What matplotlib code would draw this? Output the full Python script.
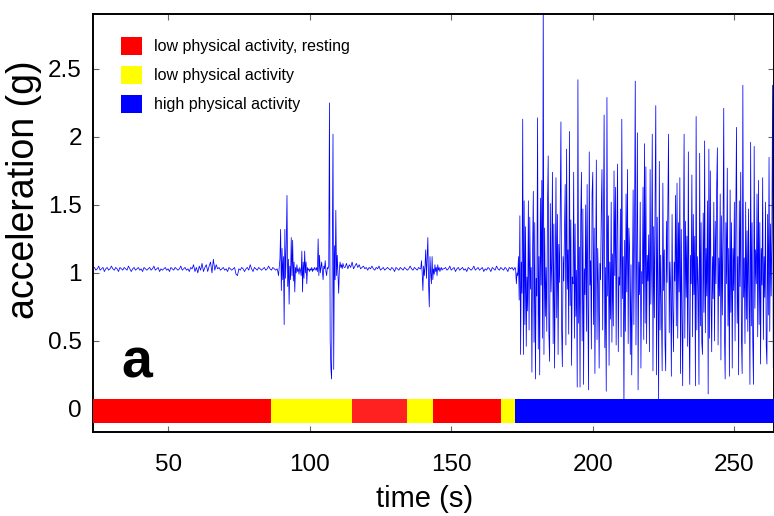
"""
Acceleration trace with activity classes (panel a)
"""

import numpy as np
import matplotlib.pyplot as plt
from matplotlib.patches import Patch
from matplotlib.ticker import FormatStrFormatter

plt.rcParams['font.family'] = ['Liberation Sans', 'DejaVu Sans']

# Acceleration samples in centi-g.
# Each stretch: start time (s), sample step (s), values.
QUIET_A_T0, QUIET_A_DT = 23.5, 0.5
QUIET_A = [
    103, 104, 102, 103, 105, 102, 103, 104, 101, 103,
    104, 102, 103, 105, 103, 102, 104, 103, 101, 104,
    103, 102, 104, 103, 102, 105, 103, 101, 103, 104,
    102, 103, 104, 102, 103, 101, 104, 103, 102, 103,
    104, 102, 103, 105, 102, 103, 104, 101, 103, 102,
    103, 104, 102, 103, 101, 104, 103, 102, 104, 103,
    102, 103, 105, 102, 103, 104, 102, 103, 101, 104,
    103, 106, 101, 104, 100, 105, 102, 107, 101, 104,
    106, 101, 105, 108, 100, 110, 102, 106, 103, 104,
    102, 103, 104, 102, 103, 101, 104, 103, 102, 103,
    104, 99, 98, 103, 102, 104, 103, 101, 103, 104,
    102, 106, 103, 101, 104, 103, 102, 104, 103, 102,
    103, 104, 102, 103, 105, 103, 102, 104, 103, 102,
]

BURST_A_T0, BURST_A_DT = 88.5, 0.25
BURST_A = [
    103, 101, 98, 104, 110, 132, 87, 118,
    95, 112, 62, 132, 96, 120, 157, 90,
    110, 77, 105, 95, 126, 98, 124, 94,
    108, 86, 104, 100, 106, 101, 103, 99,
    104, 102, 98, 116, 86, 108, 96, 116,
    100, 108, 92, 104, 102, 103, 101, 103,
    102, 104, 101, 103, 102, 104, 103, 102,
    104, 101, 125, 98, 113, 100, 104, 108,
    101, 95, 105, 103, 109, 101, 98, 104,
    103, 105, 225, 50, 30, 22, 110, 202,
    29, 120, 95, 146, 98, 113, 100, 85,
    103, 108, 104, 106, 103, 107, 105, 104,
]

QUIET_B_T0, QUIET_B_DT = 112.5, 0.5
QUIET_B = [
    104, 107, 103, 106, 104, 108, 103, 105, 107, 104,
    106, 103, 104, 105, 103, 104, 102, 104, 103, 105,
    103, 102, 104, 103, 105, 102, 103, 104, 102, 103,
    104, 103, 102, 104, 103, 101, 104, 103, 102, 104,
    103, 102, 104, 103, 102, 103, 105, 103, 102, 104,
    103, 102, 104, 103,
]

BURST_B_T0, BURST_B_DT = 139.25, 0.25
BURST_B = [
    103, 109, 100, 87, 105, 98, 105, 117,
    96, 110, 126, 92, 75, 112, 100, 92,
    112, 95, 103, 99, 106, 101, 104, 98,
    106, 102, 104, 101, 103, 104, 102, 103,
]

QUIET_C_T0, QUIET_C_DT = 147.5, 0.5
QUIET_C = [
    103, 104, 102, 103, 105, 102, 103, 104, 101, 103,
    104, 102, 103, 104, 102, 103, 101, 104, 103, 102,
    103, 105, 102, 103, 104, 102, 103, 104, 101, 103,
    102, 104, 103, 101, 104, 103, 102, 105, 103, 102,
    104, 103, 102, 104, 103, 101, 104, 103, 104, 102,
]

ACTIVE_T0, ACTIVE_DT = 172.5, 0.25
ACTIVE = [
    104, 103, 92, 100, 98, 112, 80, 142,
    40, 108, 85, 213, 40, 153, 62, 134,
    46, 97, 72, 153, 58, 141, 88, 104,
    27, 118, 160, 49, 137, 22, 96, 83,
    214, 44, 112, 25, 155, 91, 168, 52,
    300, 40, 133, 68, 104, 57, 148, 186,
    55, 35, 151, 86, 107, 174, 48, 136,
    30, 101, 170, 67, 143, 40, 121, 93,
    145, 211, 58, 31, 112, 94, 128, 165,
    47, 191, 88, 117, 55, 204, 76, 139,
    32, 97, 92, 174, 52, 136, 68, 102,
    16, 242, 63, 119, 16, 141, 174, 50,
    147, 18, 103, 84, 150, 57, 165, 78,
    14, 189, 91, 109, 44, 158, 174, 62,
    133, 26, 98, 183, 51, 118, 89, 30,
    107, 95, 145, 176, 58, 131, 216, 45,
    104, 13, 229, 83, 142, 32, 108, 66,
    152, 49, 114, 61, 175, 98, 163, 47,
    131, 180, 42, 97, 91, 147, 53, 213,
    81, 112, 0, 124, 57, 158, 86, 176,
    48, 133, 118, 40, 106, 25, 97, 161,
    62, 137, 241, 47, 119, 203, 14, 108,
    84, 152, 30, 101, 92, 163, 51, 195,
    63, 178, 48, 113, 94, 128, 42, 176,
    77, 110, 202, 28, 134, 67, 152, 223,
    25, 141, 86, 7, 182, 58, 113, 72,
    28, 166, 87, 117, 49, 28, 138, 93,
    151, 202, 56, 108, 88, 24, 143, 73,
    42, 108, 94, 157, 61, 166, 52, 137,
    86, 170, 26, 132, 69, 17, 118, 202,
    52, 138, 82, 127, 46, 189, 63, 18,
    113, 92, 172, 53, 143, 84, 127, 17,
    215, 58, 112, 91, 18, 188, 61, 137,
    49, 40, 144, 71, 197, 56, 118, 83,
    153, 11, 191, 52, 175, 87, 42, 112,
    81, 152, 50, 138, 92, 162, 192, 47,
    111, 83, 158, 36, 142, 69, 127, 221,
    56, 22, 137, 92, 177, 61, 118, 24,
    161, 71, 137, 30, 118, 87, 152, 50,
    141, 207, 63, 112, 25, 153, 90, 174,
    52, 26, 238, 82, 111, 48, 152, 66,
    131, 57, 147, 88, 18, 196, 61, 137,
    50, 18, 193, 74, 117, 92, 158, 53,
    168, 62, 137, 33, 118, 91, 170, 51,
    112, 82, 152, 47, 33, 143, 69, 185,
    57, 136, 83, 127, 238, 30, 108, 105,
]

# Activity classification bar
ACTIVITY_START = [23.5, 86.4, 115.0, 134.3, 143.7, 167.7, 172.6]
ACTIVITY_END = [86.4, 115.0, 134.3, 143.7, 167.7, 172.6, 264.0]
ACTIVITY_LEVEL = ['rest', 'low', 'rest', 'low', 'rest', 'low', 'high']

LEVEL_COLORS = {'rest': '#ff0000', 'low': '#ffff00', 'high': '#0000ff'}
LEVEL_LABELS = {
    'rest': 'low physical activity, resting',
    'low': 'low physical activity',
    'high': 'high physical activity',
}


def stretch(t0, dt, values):
    t = t0 + dt * np.arange(len(values))
    return t, np.asarray(values, dtype=float) / 100.0


pieces = [
    stretch(QUIET_A_T0, QUIET_A_DT, QUIET_A),
    stretch(BURST_A_T0, BURST_A_DT, BURST_A),
    stretch(QUIET_B_T0, QUIET_B_DT, QUIET_B),
    stretch(BURST_B_T0, BURST_B_DT, BURST_B),
    stretch(QUIET_C_T0, QUIET_C_DT, QUIET_C),
    stretch(ACTIVE_T0, ACTIVE_DT, ACTIVE),
]
time = np.concatenate([p[0] for p in pieces])
accel = np.concatenate([p[1] for p in pieces])

fig = plt.figure(figsize=(7.74, 5.16), dpi=100)
ax = fig.add_axes([0.1202, 0.163, 0.8798, 0.810])

# signal
ax.plot(time, accel, color='#0000ff', linewidth=0.55, zorder=2)

# activity bar (the middle resting block is a touch lighter in the original)
for i, (start, end, level) in enumerate(zip(ACTIVITY_START, ACTIVITY_END, ACTIVITY_LEVEL)):
    color = '#ff2020' if i == 2 else LEVEL_COLORS[level]
    ax.broken_barh([(start, end - start)], (-0.106, 0.176),
                   facecolors=color, edgecolor='none', zorder=3)

ax.set_xlim(23.5, 264.0)
ax.set_ylim(-0.169, 2.904)
ax.set_xticks([50, 100, 150, 200, 250])
ax.set_yticks([0, 0.5, 1, 1.5, 2, 2.5])
ax.yaxis.set_major_formatter(FormatStrFormatter('%g'))

ax.tick_params(direction='in', length=4, width=0.8, color='#666666',
               top=True, right=True, labelsize=17.5)
ax.tick_params(axis='x', pad=16)
ax.tick_params(axis='y', pad=8)
for spine in ax.spines.values():
    spine.set_linewidth(1.4)

ax.set_xlabel('time (s)', fontsize=21)
ax.set_ylabel('acceleration (g)', fontsize=27)
ax.xaxis.set_label_coords(0.4875, -0.128)
ax.yaxis.set_label_coords(-0.075, 0.579)

handles = [Patch(facecolor=LEVEL_COLORS[k], edgecolor='none', label=LEVEL_LABELS[k])
           for k in ['rest', 'low', 'high']]
ax.legend(handles=handles, loc='upper left', bbox_to_anchor=(0.0407, 0.944),
          frameon=False, fontsize=11.5, handlelength=1.31, handleheight=1.31,
          handletextpad=0.79, labelspacing=0.72, borderpad=0, borderaxespad=0)

ax.text(0.042, 0.129, 'a', transform=ax.transAxes, fontsize=40,
        fontweight='bold', ha='left', va='baseline')

fig.savefig('out.png', dpi=100)
